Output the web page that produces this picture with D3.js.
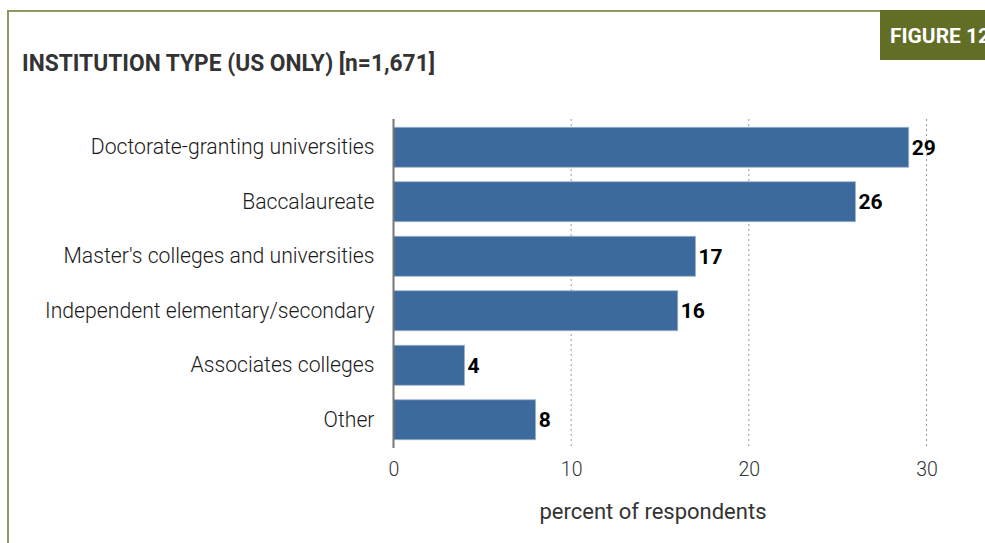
<!DOCTYPE html>
<html>
<head>
<meta charset="utf-8">
<script src="https://cdn.jsdelivr.net/npm/d3@7"></script>
<style>
  html, body { margin: 0; padding: 0; background: #fff; }
  svg { display: block; }
  text { font-family: Roboto, "Noto Sans", sans-serif; }
</style>
</head>
<body>
<svg id="chart" width="985" height="543"></svg>
<script>
// Institution type shares (US only)
const categories = [
  "Doctorate-granting universities",
  "Baccalaureate",
  "Master's colleges and universities",
  "Independent elementary/secondary",
  "Associates colleges",
  "Other"
];
const values = [29, 26, 17, 16, 4, 8];
const tickValues = [0, 10, 20, 30];
const titleText = "INSTITUTION TYPE (US ONLY) [n=1,671]";
const figureText = "FIGURE 12";
const axisTitle = "percent of respondents";

const svg = d3.select("#chart");
const W = 985, H = 543;

// Frame: olive rule across the top and down the left side
const frameColor = "#8c9862";
svg.append("line").attr("x1", 7.5).attr("x2", 880).attr("y1", 11).attr("y2", 11)
  .attr("stroke", frameColor).attr("stroke-width", 2);
svg.append("line").attr("x1", 8).attr("x2", 8).attr("y1", 10).attr("y2", H)
  .attr("stroke", frameColor).attr("stroke-width", 2);

// Figure tag in the top-right corner (runs past the page edge)
svg.append("rect").attr("x", 880).attr("y", 10).attr("width", 120).attr("height", 50)
  .attr("fill", "#626d26");
svg.append("text").attr("x", 890).attr("y", 43)
  .attr("fill", "#fff").attr("font-size", 21).attr("font-weight", 700)
  .attr("textLength", 100).attr("lengthAdjust", "spacingAndGlyphs")
  .text(figureText);

// Title
svg.append("text").attr("x", 22).attr("y", 71)
  .attr("fill", "#333").attr("font-size", 24).attr("font-weight", 700)
  .attr("textLength", 413).attr("lengthAdjust", "spacingAndGlyphs")
  .text(titleText);

// Scales
const x = d3.scaleLinear().domain([0, 30]).range([393.5, 926.5]);
const y = d3.scaleBand().domain(categories).range([120, 447])
  .paddingInner(0.266).paddingOuter(0.133);

// Dotted vertical gridlines
svg.append("g").selectAll("line").data(tickValues.filter(d => d > 0)).join("line")
  .attr("x1", d => x(d)).attr("x2", d => x(d))
  .attr("y1", 119).attr("y2", 448)
  .attr("stroke", "#999").attr("stroke-width", 1)
  .attr("stroke-dasharray", "2,3");

// Bars
svg.append("g").selectAll("rect").data(categories).join("rect")
  .attr("x", x(0))
  .attr("y", d => y(d))
  .attr("width", (d, i) => x(values[i]) - x(0))
  .attr("height", y.bandwidth())
  .attr("fill", "#3c6a9d")
  .attr("stroke", "#9fb4cc").attr("stroke-width", 0.8);

// Value labels
svg.append("g").selectAll("text").data(categories).join("text")
  .attr("x", (d, i) => x(values[i]) + 3)
  .attr("y", d => y(d) + y.bandwidth() / 2)
  .attr("dy", "0.36em")
  .attr("fill", "#000").attr("font-size", 21).attr("font-weight", 700)
  .text((d, i) => values[i]);

// Category axis
const yAxis = svg.append("g").attr("transform", `translate(${x(0)},0)`)
  .call(d3.axisLeft(y).tickSize(0).tickPadding(19));
yAxis.select(".domain").remove();
yAxis.selectAll("text").attr("font-size", 21.2).attr("font-weight", 300)
  .attr("fill", "#1a1a1a").attr("font-family", "Roboto, sans-serif");
svg.append("line").attr("x1", x(0)).attr("x2", x(0)).attr("y1", 119).attr("y2", 448)
  .attr("stroke", "#777").attr("stroke-width", 2);

// Value axis
const xAxis = svg.append("g").attr("transform", "translate(0,448)")
  .call(d3.axisBottom(x).tickValues(tickValues).tickSize(0).tickPadding(14));
xAxis.select(".domain").remove();
xAxis.selectAll("text").attr("font-size", 19.5).attr("font-weight", 300)
  .attr("fill", "#333").attr("font-family", "Roboto, sans-serif");

svg.append("text").attr("x", 653).attr("y", 519)
  .attr("text-anchor", "middle").attr("fill", "#333")
  .attr("font-size", 22).attr("font-weight", 400)
  .text(axisTitle);
</script>
</body>
</html>
